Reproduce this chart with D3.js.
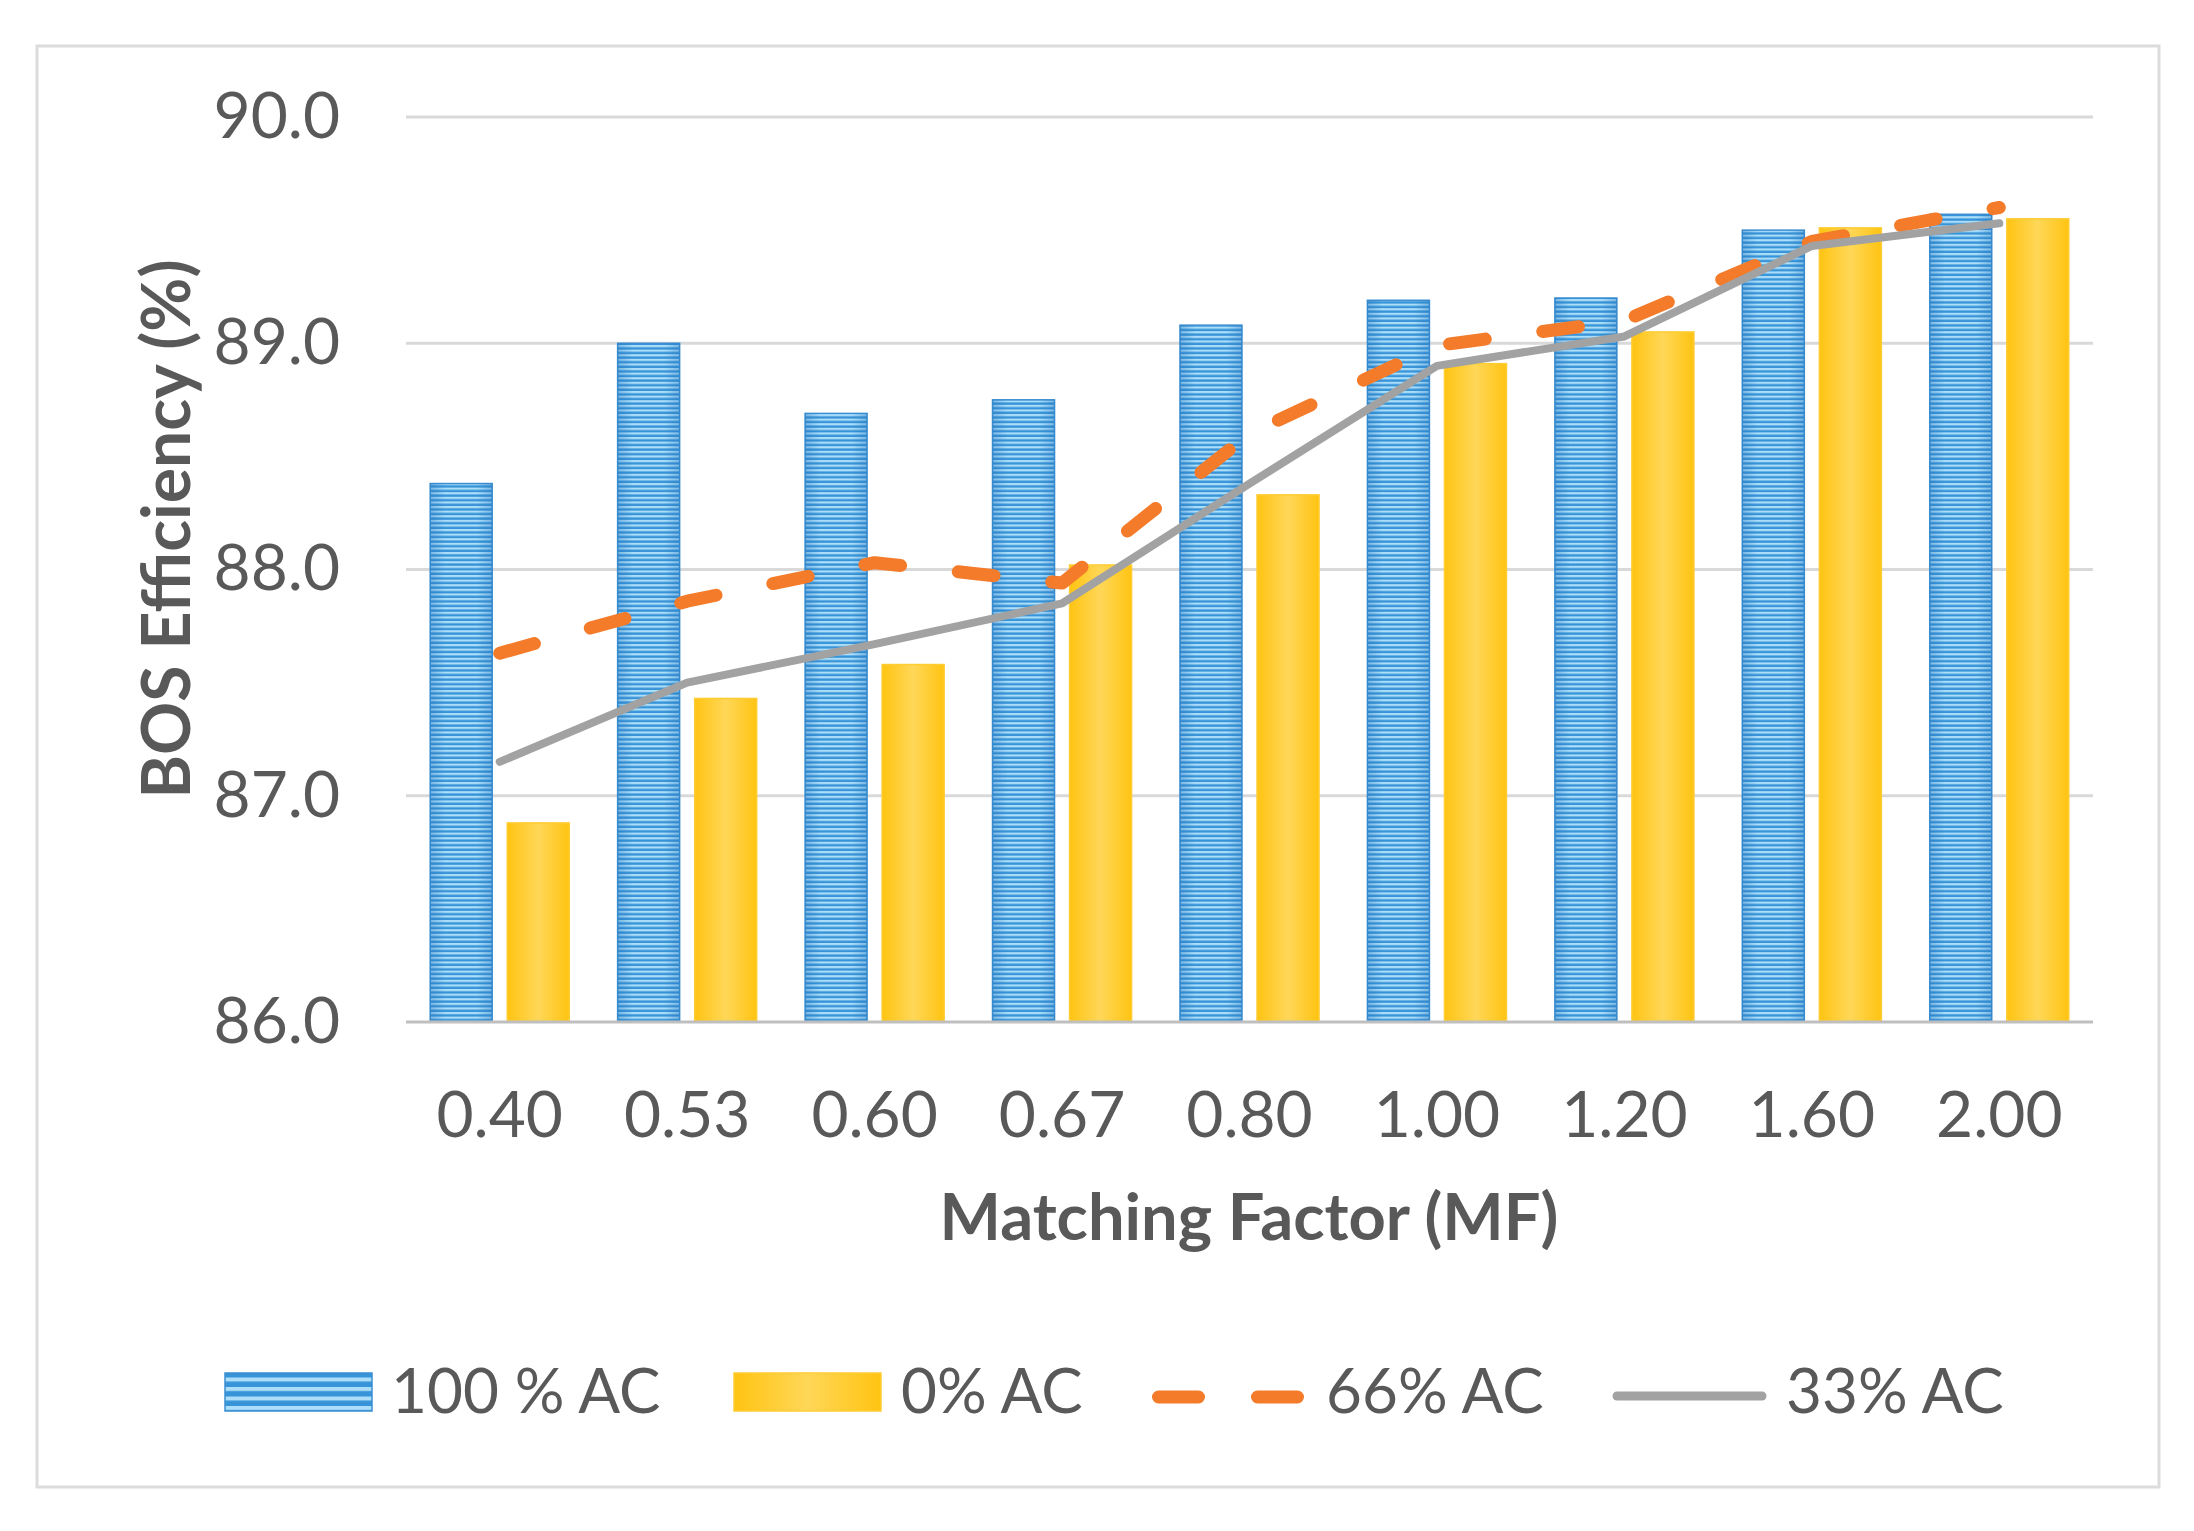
<!DOCTYPE html>
<html>
<head>
<meta charset="utf-8">
<script src="https://cdn.jsdelivr.net/npm/d3@7"></script>
<style>
  html, body { margin: 0; padding: 0; background: #ffffff; }
  svg { display: block; }
  text { font-family: Lato, "Open Sans", sans-serif; fill: #595959; }
</style>
</head>
<body>
<script>
// ---- data ----
const categories = ["0.40", "0.53", "0.60", "0.67", "0.80", "1.00", "1.20", "1.60", "2.00"];
const ac100 = [88.38, 89.00, 88.69, 88.75, 89.08, 89.19, 89.20, 89.50, 89.57];
const ac0   = [86.88, 87.43, 87.58, 88.02, 88.33, 88.91, 89.05, 89.51, 89.55];
const ac66  = [87.63, 87.86, 88.03, 87.94, 88.60, 88.99, 89.10, 89.45, 89.60];
const ac33  = [87.15, 87.50, 87.67, 87.85, 88.38, 88.90, 89.03, 89.43, 89.53];
const yTicks = [86, 87, 88, 89, 90];
const seriesNames = ["100 % AC", "0% AC", "66% AC", "33% AC"];
const xTitle = "Matching Factor (MF)";
const yTitle = "BOS Efficiency (%)";

const W = 2194, H = 1531;
const svg = d3.select("body").append("svg").attr("width", W).attr("height", H);

const defs = svg.append("defs");
// blue striped pattern
function stripePattern(id, period, light) {
  const p = defs.append("pattern").attr("id", id)
    .attr("patternUnits", "userSpaceOnUse").attr("width", 20).attr("height", period);
  p.append("rect").attr("width", 20).attr("height", period).attr("fill", "#3894d8");
  p.append("rect").attr("y", 0).attr("width", 20).attr("height", light).attr("fill", "#acdefa");
}
stripePattern("blueStripes", 4.6, 2.2);
stripePattern("blueStripesLegend", 9.5, 4);
const edge = defs.append("linearGradient").attr("id", "blueEdge").attr("x1", 0).attr("x2", 1).attr("y1", 0).attr("y2", 0);
edge.append("stop").attr("offset", "0%").attr("stop-color", "#1f70b8").attr("stop-opacity", 0.35);
edge.append("stop").attr("offset", "25%").attr("stop-color", "#1f70b8").attr("stop-opacity", 0);
edge.append("stop").attr("offset", "75%").attr("stop-color", "#1f70b8").attr("stop-opacity", 0);
edge.append("stop").attr("offset", "100%").attr("stop-color", "#1f70b8").attr("stop-opacity", 0.35);
const yel = defs.append("linearGradient").attr("id", "yellowGrad").attr("x1", 0).attr("x2", 1).attr("y1", 0).attr("y2", 0);
yel.append("stop").attr("offset", "0%").attr("stop-color", "#ffc412");
yel.append("stop").attr("offset", "50%").attr("stop-color", "#ffd758");
yel.append("stop").attr("offset", "100%").attr("stop-color", "#ffc412");

// frame
svg.append("rect").attr("x", 37).attr("y", 46).attr("width", 2122).attr("height", 1441)
  .attr("fill", "#ffffff").attr("stroke", "#dcdcdc").attr("stroke-width", 3);

// scales
const y = d3.scaleLinear().domain([86, 90]).range([1022, 117]);
const x0 = d3.scaleBand().domain(categories).range([406, 2093]).paddingInner(0.258).paddingOuter(0.129);
const x1 = d3.scaleBand().domain(["ac100", "ac0"]).range([0, x0.bandwidth()]).paddingInner(0.195);

// gridlines
const grid = svg.append("g");
grid.selectAll("line").data(yTicks.filter(d => d !== 86)).join("line")
  .attr("x1", 406).attr("x2", 2093)
  .attr("y1", d => y(d)).attr("y2", d => y(d))
  .attr("stroke", "#d9d9d9").attr("stroke-width", 3);

// y tick labels
const yAxis = d3.axisLeft(y).tickValues(yTicks).tickFormat(d3.format(".1f")).tickSize(0).tickPadding(66);
const yg = svg.append("g").attr("transform", "translate(406,0)").call(yAxis);
yg.select(".domain").remove();
yg.selectAll("text").attr("font-size", 64).attr("fill", "#595959")
  .style("font-family", "Lato, 'Open Sans', sans-serif");

// bars
const groups = svg.append("g").selectAll("g").data(categories).join("g")
  .attr("transform", d => `translate(${x0(d)},0)`);
groups.append("rect")
  .attr("x", x1("ac100")).attr("width", x1.bandwidth())
  .attr("y", (d, i) => y(ac100[i])).attr("height", (d, i) => y(86) - y(ac100[i]))
  .attr("fill", "url(#blueStripes)").attr("stroke", "#3b8fd2").attr("stroke-width", 1.5);
groups.append("rect")
  .attr("x", x1("ac100")).attr("width", x1.bandwidth())
  .attr("y", (d, i) => y(ac100[i])).attr("height", (d, i) => y(86) - y(ac100[i]))
  .attr("fill", "url(#blueEdge)");
groups.append("rect")
  .attr("x", x1("ac0")).attr("width", x1.bandwidth())
  .attr("y", (d, i) => y(ac0[i])).attr("height", (d, i) => y(86) - y(ac0[i]))
  .attr("fill", "url(#yellowGrad)").attr("stroke", "#ffcc33").attr("stroke-width", 1.5);

// x axis line
svg.append("line").attr("x1", 406).attr("x2", 2093).attr("y1", y(86)).attr("y2", y(86))
  .attr("stroke", "#bfbfbf").attr("stroke-width", 3);

// x tick labels
const xAxis = d3.axisBottom(x0).tickSize(0).tickPadding(70);
const xg = svg.append("g").attr("transform", `translate(0,${y(86)})`).call(xAxis);
xg.select(".domain").remove();
xg.selectAll("text").attr("font-size", 64).attr("fill", "#595959")
  .style("font-family", "Lato, 'Open Sans', sans-serif");

// lines
const cx = c => x0(c) + x0.bandwidth() / 2;
const line = d3.line().x(d => cx(d.c)).y(d => y(d.v));
svg.append("path").datum(categories.map((c, i) => ({ c, v: ac66[i] })))
  .attr("d", line).attr("fill", "none").attr("stroke", "#f47b2a").attr("stroke-width", 13)
  .attr("stroke-linecap", "round").attr("stroke-linejoin", "round").attr("stroke-dasharray", "36,58");
svg.append("path").datum(categories.map((c, i) => ({ c, v: ac33[i] })))
  .attr("d", line).attr("fill", "none").attr("stroke", "#a2a2a2").attr("stroke-width", 8)
  .attr("stroke-linecap", "round").attr("stroke-linejoin", "round");

// axis titles
svg.append("text").attr("transform", "translate(190,529) rotate(-90)")
  .attr("text-anchor", "middle").attr("font-size", 66).attr("font-weight", "bold")
  .text(yTitle);
svg.append("text").attr("x", 1249).attr("y", 1240)
  .attr("text-anchor", "middle").attr("font-size", 65).attr("font-weight", "bold")
  .text(xTitle);

// legend
const lg = svg.append("g");
lg.append("rect").attr("x", 225).attr("y", 1373).attr("width", 147).attr("height", 38)
  .attr("fill", "url(#blueStripesLegend)").attr("stroke", "#3b8fd2").attr("stroke-width", 1.5);
lg.append("rect").attr("x", 734).attr("y", 1373).attr("width", 147).attr("height", 38)
  .attr("fill", "url(#yellowGrad)").attr("stroke", "#ffcc33").attr("stroke-width", 1.5);
lg.append("line").attr("x1", 1158.5).attr("x2", 1298.5).attr("y1", 1397).attr("y2", 1397)
  .attr("stroke", "#f47b2a").attr("stroke-width", 13).attr("stroke-linecap", "round")
  .attr("stroke-dasharray", "40,59");
lg.append("line").attr("x1", 1617).attr("x2", 1762).attr("y1", 1396).attr("y2", 1396)
  .attr("stroke", "#a2a2a2").attr("stroke-width", 9).attr("stroke-linecap", "round");
const legX = [391, 901, 1326, 1786];
lg.selectAll("text.leg").data(seriesNames).join("text").attr("class", "leg")
  .attr("x", (d, i) => legX[i]).attr("y", 1413).attr("font-size", 62).text(d => d);
</script>
</body>
</html>
